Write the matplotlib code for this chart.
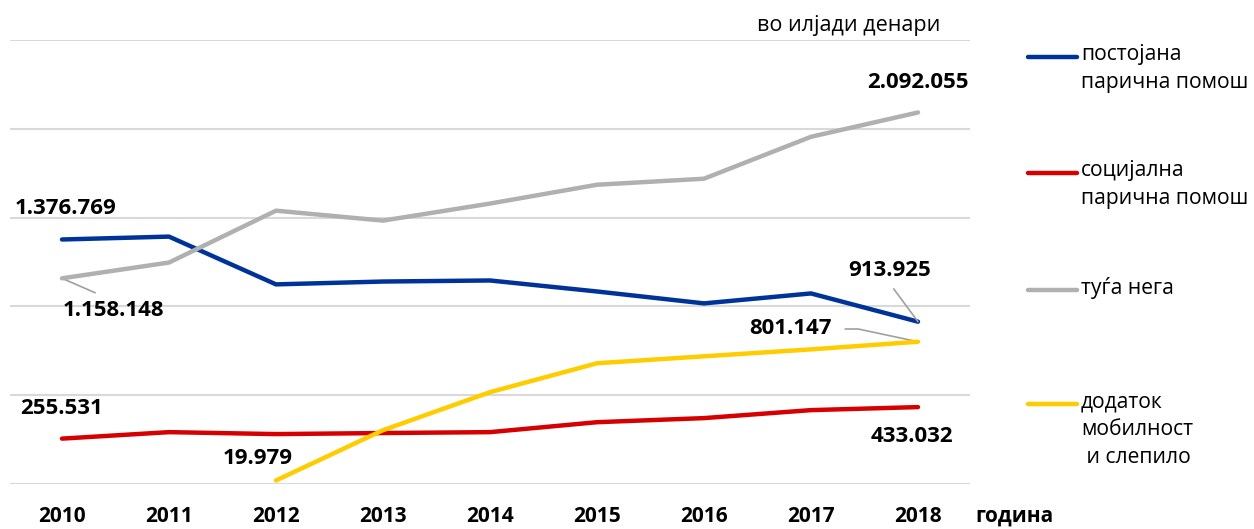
import matplotlib.pyplot as plt
from matplotlib.lines import Line2D

plt.rcParams['font.family'] = ['Open Sans', 'DejaVu Sans']

godini = [2010, 2011, 2012, 2013, 2014, 2015, 2016, 2017, 2018]
postojana = [1376769, 1393000, 1124000, 1140000, 1146000, 1084000, 1017000, 1073000, 913925]
socijalna = [255531, 292000, 281000, 287000, 292000, 348000, 371000, 416000, 433032]
tuga_nega = [1158148, 1247000, 1539000, 1483000, 1579000, 1685000, 1719000, 1955000, 2092055]
godini_dodatok = [2012, 2013, 2014, 2015, 2016, 2017, 2018]
dodatok = [19979, 303000, 517000, 680000, 719000, 758000, 801147]

iminja = ["постојана\nпарична помош", "социјална\nпарична помош", "туѓа нега",
          "додаток\nмобилност\n и слепило"]
boi = ['#003399', '#D60000', '#B0B0B0', '#FFCC00']

W, H = 1254, 529
fig = plt.figure(figsize=(W / 100, H / 100), dpi=100)
ax = fig.add_axes([10 / W, 45 / H, 960 / W, 444 / H])

ax.plot(godini, postojana, color=boi[0], lw=3.2, solid_capstyle='round', zorder=3)
ax.plot(godini, socijalna, color=boi[1], lw=3.2, solid_capstyle='round', zorder=3)
ax.plot(godini, tuga_nega, color=boi[2], lw=3.2, solid_capstyle='round', zorder=4)
ax.plot(godini_dodatok, dodatok, color=boi[3], lw=3.2, solid_capstyle='round', zorder=5)

ax.set_xlim(2010 - 52 / 107, 2018 + 52 / 107)
ax.set_ylim(0, 2500000)
ax.set_yticks([0, 500000, 1000000, 1500000, 2000000, 2500000])
ax.yaxis.grid(True, color='#D9D9D9', lw=1.5)
ax.set_axisbelow(True)
ax.tick_params(left=False, bottom=False, labelleft=False)
for s in ax.spines.values():
    s.set_visible(False)
ax.set_xticks(godini)
ax.set_xticklabels([str(g) for g in godini], fontsize=15, fontweight='bold')
ax.tick_params(axis='x', pad=12)

def fmt(v):
    return f"{v:,}".replace(',', '.')

lab = dict(fontsize=16, fontweight='bold', ha='center', va='center',
           textcoords='figure pixels', annotation_clip=False)
line = dict(arrowstyle='-', color='#A0A0A0', lw=1.2, shrinkB=0)

ax.annotate(fmt(postojana[0]), (2010, postojana[0]), xytext=(66, H - 209), **lab)
ax.annotate(fmt(tuga_nega[0]), (2010, tuga_nega[0]), xytext=(113, H - 311),
            arrowprops=dict(line, relpos=(0.5, 1.0), shrinkA=9), **lab)
ax.annotate(fmt(socijalna[0]), (2010, socijalna[0]), xytext=(62, H - 408), **lab)
ax.annotate(fmt(dodatok[0]), (2012, dodatok[0]), xytext=(258, H - 458), **lab)
ax.annotate(fmt(tuga_nega[-1]), (2018, tuga_nega[-1]), xytext=(918, H - 82), **lab)
ax.annotate(fmt(postojana[-1]), (2018, postojana[-1]), xytext=(890, H - 270),
            arrowprops=dict(line, relpos=(0.47, 0.0), shrinkA=5), **lab)
ax.annotate(fmt(dodatok[-1]), (2018, dodatok[-1]), xytext=(790, H - 329),
            arrowprops=dict(line, relpos=(1.0, 0.5), shrinkA=8,
                            connectionstyle='angle,angleA=0,angleB=168,rad=0'),
            **lab)
ax.annotate(fmt(socijalna[-1]), (2018, socijalna[-1]), xytext=(912, H - 437), **lab)

fig.text(849 / W, 1 - 25 / H, "во илјади денари", fontsize=15.5, ha='center', va='center')
fig.text(975 / W, 1 - 516 / H, "година", fontsize=15, fontweight='bold', ha='left', va='center')

leg_y = [57, 173, 290, 404]
for ime, boja, y in zip(iminja, boi, leg_y):
    fig.add_artist(Line2D([1028 / W, 1077 / W], [1 - y / H, 1 - y / H], color=boja,
                          lw=3.2, solid_capstyle='round', transform=fig.transFigure))
    fig.text(1081 / W, 1 - (y - 13) / H, ime, fontsize=15.2, ha='left', va='top',
             linespacing=1.45)

fig.savefig('out.png', dpi=100)
